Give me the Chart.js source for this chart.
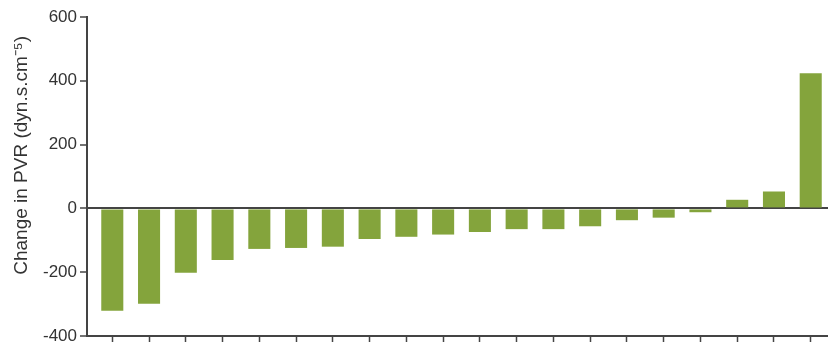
<!DOCTYPE html>
<html>
<head>
<meta charset="utf-8">
<script src="https://cdn.jsdelivr.net/npm/chart.js@4/dist/chart.umd.min.js"></script>
<style>
  html, body { margin: 0; padding: 0; background: #fff; }
  #wrap { width: 828px; height: 346px; position: relative; }
</style>
</head>
<body>
<div id="wrap"><canvas id="c" width="828" height="346"></canvas></div>
<script>
// Patients (x positions) sorted by change in PVR
const patients = [1, 2, 3, 4, 5, 6, 7, 8, 9, 10, 11, 12, 13, 14, 15, 16, 17, 18, 19, 20];
// Change in PVR (dyn.s.cm-5)
const pvrChange = [-321, -299, -202, -162, -127, -124, -120, -96, -89, -82, -74, -65, -65, -56, -37, -29, -12, 27, 53, 424];
// Y axis tick values
const yTicks = [-400, -200, 0, 200, 400, 600];

const axisColor = '#444444';
const textColor = '#333333';
const barColor = 'rgb(132,164,60)';

const points = patients.map((p, i) => ({ x: p, y: pvrChange[i] }));

new Chart(document.getElementById('c'), {
  type: 'bar',
  data: {
    datasets: [{
      data: points,
      backgroundColor: barColor,
      borderWidth: 0,
      barPercentage: 0.6,
      categoryPercentage: 1.0
    }]
  },
  options: {
    responsive: false,
    animation: false,
    devicePixelRatio: 1,
    layout: { padding: { top: 17, right: 0, bottom: 0, left: 0 } },
    plugins: { legend: { display: false }, tooltip: { enabled: false } },
    scales: {
      x: {
        type: 'linear',
        offset: false,
        min: 0.312,
        max: 20.47,
        afterBuildTicks: (scale) => { scale.ticks = patients.map(v => ({ value: v })); },
        afterFit: (scale) => { scale.height = 10; },
        ticks: { display: false },
        grid: {
          display: true,
          offset: false,
          drawOnChartArea: false,
          drawTicks: true,
          tickLength: 6,
          tickColor: axisColor,
          tickWidth: 1.5,
          color: axisColor
        },
        border: { display: true, color: axisColor, width: 2 }
      },
      y: {
        min: -400,
        max: 600,
        z: 1,
        afterBuildTicks: (scale) => { scale.ticks = yTicks.map(v => ({ value: v })); },
        afterFit: (scale) => { scale.width = 87; },
        ticks: {
          color: textColor,
          padding: 3,
          font: { family: '"Liberation Sans", Arial, sans-serif', size: 17, lineHeight: 0.6 }
        },
        grid: {
          drawOnChartArea: true,
          drawTicks: true,
          tickLength: 7,
          tickColor: axisColor,
          tickWidth: 1.5,
          lineWidth: (ctx) => (ctx.tick && ctx.tick.value === 0 ? 2 : 0),
          color: (ctx) => (ctx.tick && ctx.tick.value === 0 ? axisColor : 'rgba(0,0,0,0)')
        },
        border: { display: true, color: axisColor, width: 2 },
        title: {
          display: true,
          text: '\u00a0\u00a0\u00a0\u00a0\u00a0\u00a0\u00a0\u00a0Change in PVR (dyn.s.cm\u207B\u2075)',
          color: textColor,
          padding: { top: 10, bottom: 0 },
          font: { family: '"Liberation Sans", Arial, sans-serif', size: 19 }
        }
      }
    }
  }
});
</script>
</body>
</html>
